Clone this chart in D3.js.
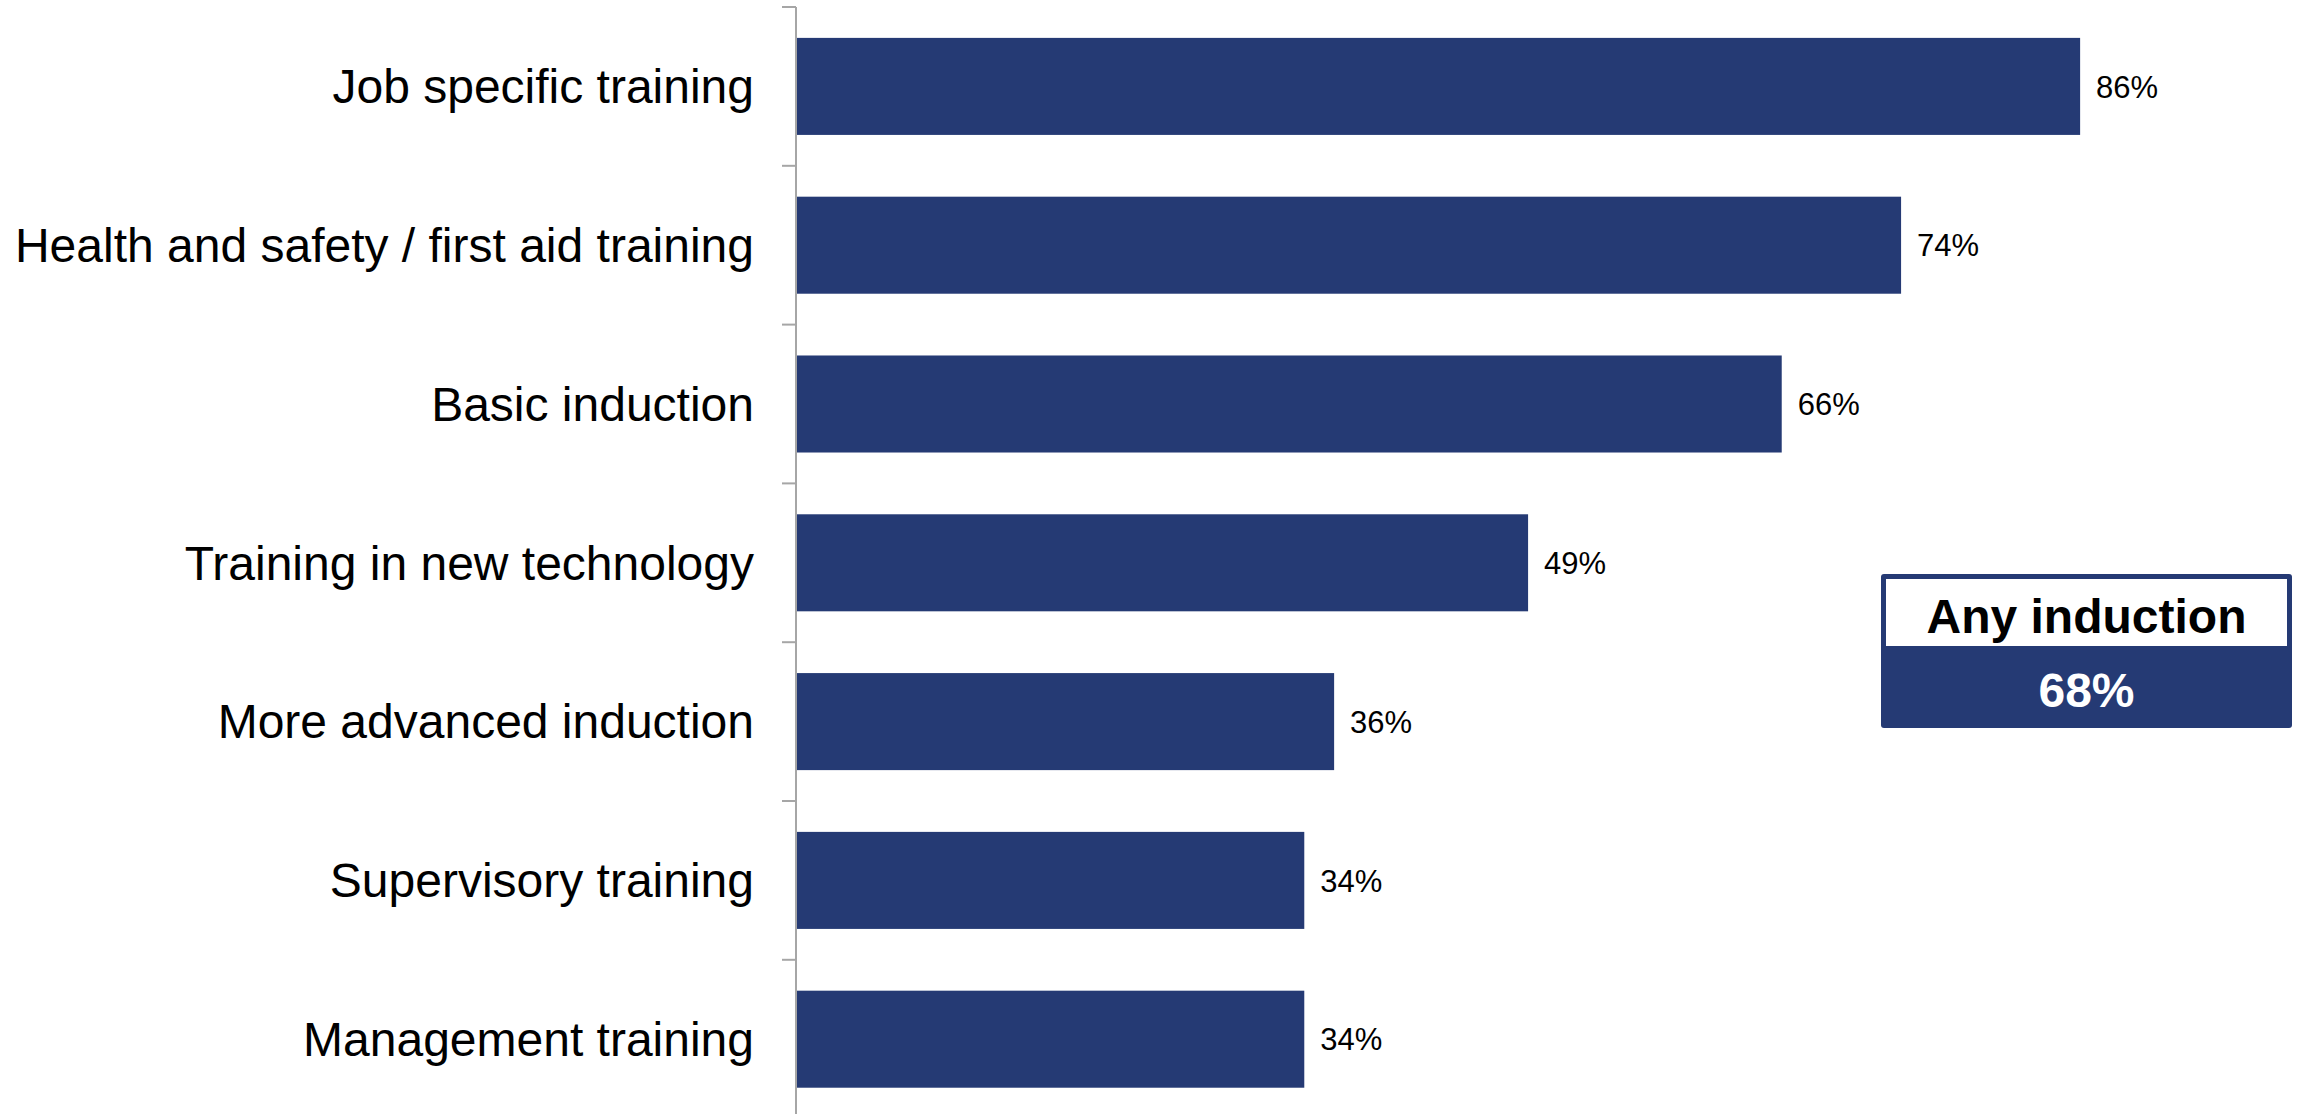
<!DOCTYPE html>
<html>
<head>
<meta charset="utf-8">
<script src="https://cdn.jsdelivr.net/npm/d3@7"></script>
<style>
  body { margin: 0; background: #fff; }
  svg { display: block; font-family: Arial, "Liberation Sans", sans-serif; }
</style>
</head>
<body>
<svg></svg>
<script>
var viewWidth = 2308;
var viewHeight = 1114;

var categories = ["Job specific training", "Health and safety / first aid training", "Basic induction",
    "Training in new technology", "More advanced induction", "Supervisory training", "Management training"];
var values = [86, 74, 66, 49, 36, 34, 34];
var boxTitle = "Any induction";
var boxValue = 68;

var barColor = "#253a74";
var axisColor = "#a6a6a6";

var svg = d3.select("svg")
    .attr("width", viewWidth)
    .attr("height", viewHeight);

var x = d3.scaleLinear()
    .domain([0, 100])
    .range([797, 2289]);

var y = d3.scaleBand()
    .domain(categories)
    .range([7, 1118.6])
    .paddingInner(0.389)
    .paddingOuter(0.1945);

// axis line + ticks at band boundaries
var axisX = 796;
svg.append("line")
    .attr("x1", axisX).attr("x2", axisX)
    .attr("y1", 7).attr("y2", viewHeight)
    .attr("stroke", axisColor)
    .attr("stroke-width", 2);

svg.selectAll("line.tick")
    .data(categories)
    .enter()
    .append("line")
    .attr("class", "tick")
    .attr("x1", axisX - 14).attr("x2", axisX)
    .attr("y1", function(d) { return y(d) - y.step() * y.paddingOuter(); })
    .attr("y2", function(d) { return y(d) - y.step() * y.paddingOuter(); })
    .attr("stroke", axisColor)
    .attr("stroke-width", 2);

// bars
svg.selectAll("rect.bar")
    .data(values)
    .enter()
    .append("rect")
    .attr("class", "bar")
    .attr("x", x(0))
    .attr("y", function(d, i) { return y(categories[i]); })
    .attr("width", function(d) { return x(d) - x(0); })
    .attr("height", y.bandwidth())
    .attr("fill", barColor);

// category labels
svg.selectAll("text.cat")
    .data(categories)
    .enter()
    .append("text")
    .attr("class", "cat")
    .attr("x", 754)
    .attr("y", function(d) { return y(d) + y.bandwidth() / 2; })
    .attr("dy", "0.35em")
    .attr("text-anchor", "end")
    .style("font-size", "48px")
    .style("fill", "#000")
    .text(function(d) { return d; });

// value labels
svg.selectAll("text.val")
    .data(values)
    .enter()
    .append("text")
    .attr("class", "val")
    .attr("x", function(d) { return x(d) + 16; })
    .attr("y", function(d, i) { return y(categories[i]) + y.bandwidth() / 2; })
    .attr("dy", "0.36em")
    .style("font-size", "31px")
    .style("fill", "#000")
    .text(function(d) { return d + "%"; });

// "Any induction" call-out box
var box = {left: 1881, right: 2292, top: 574, mid: 646, bottom: 728};
var bw = box.right - box.left;
svg.append("rect")
    .attr("x", box.left).attr("y", box.top)
    .attr("width", bw).attr("height", box.bottom - box.top)
    .attr("rx", 3)
    .attr("fill", barColor);
svg.append("rect")
    .attr("x", box.left + 5).attr("y", box.top + 5)
    .attr("width", bw - 10).attr("height", box.mid - box.top - 5)
    .attr("fill", "#fff");
svg.append("text")
    .attr("x", (box.left + box.right) / 2)
    .attr("y", 633)
    .attr("text-anchor", "middle")
    .style("font-size", "48px")
    .style("font-weight", "bold")
    .style("fill", "#000")
    .text(boxTitle);
svg.append("text")
    .attr("x", (box.left + box.right) / 2)
    .attr("y", 707)
    .attr("text-anchor", "middle")
    .style("font-size", "48px")
    .style("font-weight", "bold")
    .style("fill", "#fff")
    .text(boxValue + "%");
</script>
</body>
</html>
